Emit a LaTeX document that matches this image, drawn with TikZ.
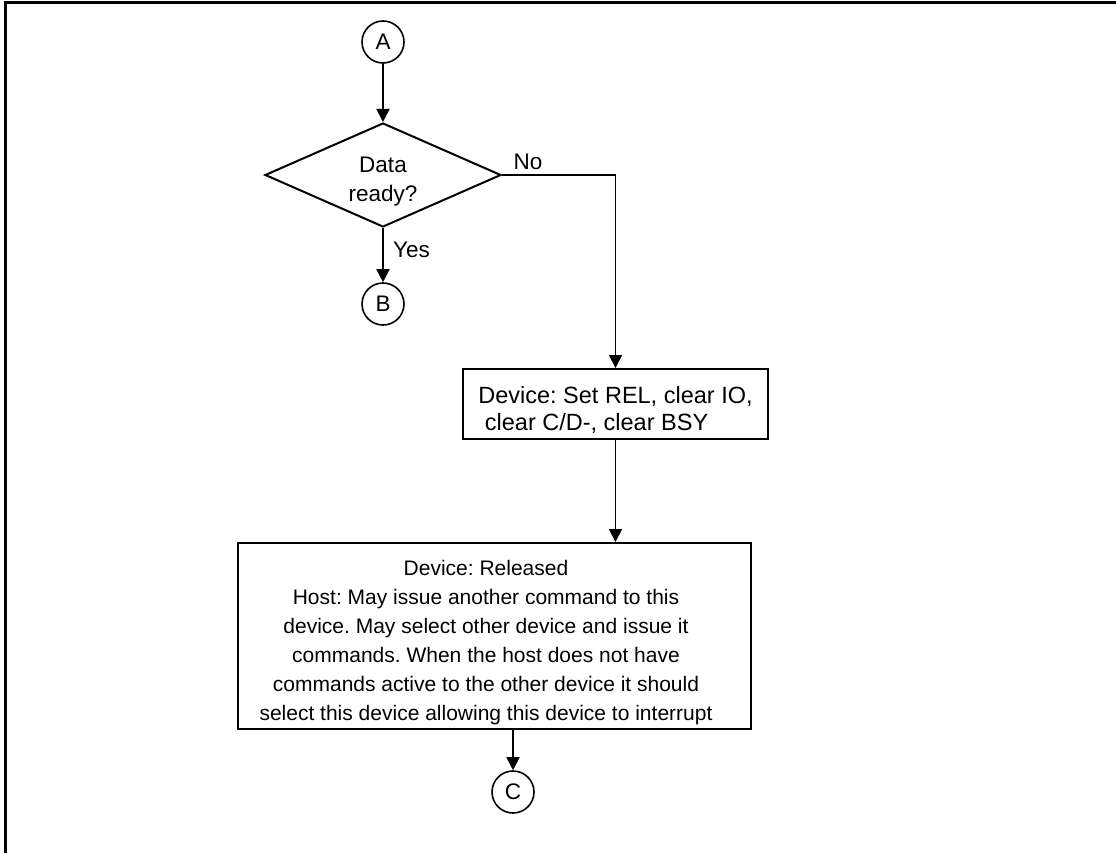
\documentclass[tikz,border=0pt]{standalone}
\usepackage{fontspec}
\setmainfont{Liberation Sans}
\usetikzlibrary{shapes.geometric,arrows.meta}
\tikzset{
  conn/.style={circle,draw,line width=1.6pt,minimum size=42pt,inner sep=0pt},
  decide/.style={diamond,draw,line width=2pt,minimum width=236pt,minimum height=104pt,aspect=2.27,inner sep=0pt,align=center},
  act/.style={rectangle,draw,line width=2pt,inner sep=0pt},
  flow/.style={->,line width=1.8pt}
}
\frenchspacing
\begin{document}
\begin{tikzpicture}[x=1pt,y=-1pt, font=\fontsize{22.5}{29}\selectfont, line join=miter, >={Triangle[length=13pt,width=13pt]}]
		\useasboundingbox (0,0) rectangle (1116,853);
		\draw[line width=3pt] (5,853)--(5,3)--(1116,3); % khung
		\node[conn] (A) at (383,42) {A};
		\node[decide] (ready) at (383,175) {\rule{0pt}{28pt}Data\\ready?};
		\node[conn] (B) at (383,304) {B};
		\node[act,minimum width=305pt,minimum height=70pt,align=left,font=\fontsize{23.5}{27}\selectfont] (setrel) at (615.5,404) {\rule{0pt}{30pt}Device: Set REL, clear IO,\\\ clear C/D-, clear BSY};
		\node[act,minimum width=513pt,minimum height=186pt] (released) at (494.5,636) {};
		\node[align=center,inner sep=0pt,font=\fontsize{21}{29}\selectfont] (reltext) at (486,643) {Device: Released\\Host: May issue another command to this\\device. May select other device and issue it\\commands. When the host does not have\\commands active to the other device it should\\select this device allowing this device to interrupt};
		\node[conn] (C) at (513,792) {C};
		\draw[flow] (A)--(ready);
		\draw[flow] (ready)--node[right=6pt,pos=0.41]{Yes}(B);
		\draw[flow] (ready.east)--node[above,inner sep=4pt,pos=0.23]{No}(ready.east-|setrel)--(setrel);
		\draw[flow] (setrel.south)--(setrel.south|-released.north);
		\draw[flow] (C|-released.south)--(C);
\end{tikzpicture}
\end{document}
